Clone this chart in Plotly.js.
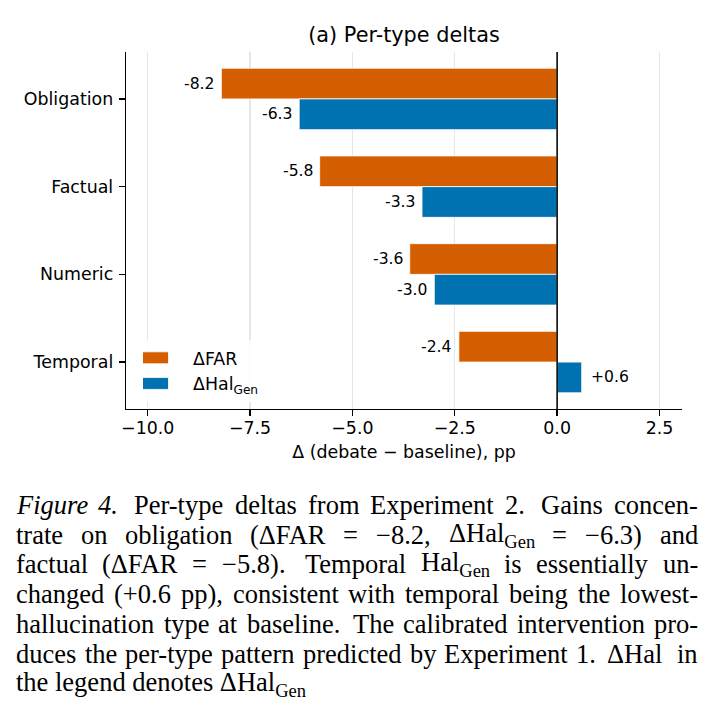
<!DOCTYPE html>
<html>
<head>
<meta charset="utf-8">
<script src="https://cdn.plot.ly/plotly-3.0.1.min.js"></script>
<style>
  html, body { margin: 0; padding: 0; background: #fff; }
  #chart { width: 708px; height: 715px; }
</style>
</head>
<body>
<div id="chart"></div>
<script>
// ---- data ----
const categories = ['Obligation', 'Factual', 'Numeric', 'Temporal'];
const deltaFAR = [-8.2, -5.8, -3.6, -2.4];
const deltaHalGen = [-6.3, -3.3, -3.0, 0.6];
const seriesNames = ['ΔFAR', 'ΔHal<sub>Gen</sub>'];
const xTickVals = [-10, -7.5, -5, -2.5, 0, 2.5];
const chartTitle = '(a) Per-type deltas';
const xAxisTitle = 'Δ (debate − baseline), pp';
const captionLines = [
  '<i>Figure</i> <i>4.</i> Per-type deltas from Experiment 2. Gains concen-',
  'trate on obligation (ΔFAR = −8.2, ΔHal<sub>Gen</sub> = −6.3) and',
  'factual (ΔFAR = −5.8). Temporal Hal<sub>Gen</sub> is essentially un-',
  'changed (+0.6 pp), consistent with temporal being the lowest-',
  'hallucination type at baseline. The calibrated intervention pro-',
  'duces the per-type pattern predicted by Experiment 1. ΔHal\u00a0 in',
  'the legend denotes ΔHal<sub>Gen</sub>'
];

// ---- styles ----
const colors = ['#d55e00', '#0072b2'];
const sans = 'DejaVu Sans, sans-serif';
const serifName = 'Liberation Serif';
const serif = serifName + ', Times New Roman, serif';
const W = 708, H = 715;
const M = {l: 126, r: 26, t: 52, b: 306};
const plotH = H - M.t - M.b, plotW = W - M.l - M.r;
const pxToPaperY = py => (H - M.b - py) / plotH;
const pxToPaperX = px => (px - M.l) / plotW;

const yIdx = categories.map((c, i) => i);
const series = [deltaFAR, deltaHalGen];

const traces = series.map((vals, s) => ({
  type: 'bar',
  orientation: 'h',
  name: seriesNames[s],
  x: vals,
  y: yIdx,
  marker: {color: colors[s], line: {color: 'white', width: 0.8}},
  hoverinfo: 'skip'
}));

const halfBar = 0.175;
const fmt = v => (v > 0 ? '+' : '') + v.toFixed(1);
const annotations = [];
series.forEach((vals, s) => {
  vals.forEach((v, i) => {
    annotations.push({
      x: v, y: i + (s === 0 ? -halfBar : halfBar), xref: 'x', yref: 'y',
      text: fmt(v), showarrow: false,
      xanchor: v < 0 ? 'right' : 'left', yanchor: 'middle',
      xshift: v < 0 ? -5 : 7,
      font: {family: sans, size: 15.6, color: '#000'}
    });
  });
});

// ---- caption: justified lines, measured with canvas ----
const capBase0 = 513, capStep = 29.8, capFont = 26.5;
const capLeft = 15, capRight = 697;
const ctx = document.createElement('canvas').getContext('2d');
function measureWord(html) {
  const parts = html.split(/(<\/?(?:i|sub)>)/);
  let italic = false, sub = false, w = 0;
  parts.forEach(p => {
    if (p === '<i>') italic = true;
    else if (p === '</i>') italic = false;
    else if (p === '<sub>') sub = true;
    else if (p === '</sub>') sub = false;
    else if (p) {
      const size = sub ? capFont * 0.7 : capFont;
      ctx.font = (italic ? 'italic ' : '') + size + 'px "' + serifName + '"';
      w += ctx.measureText(p).width;
    }
  });
  return w;
}
const capFontObj = {family: serif, size: capFont, color: '#000'};
captionLines.forEach((line, k) => {
  const yP = pxToPaperY(capBase0 + k * capStep - 8.2);
  const last = k === captionLines.length - 1;
  if (last) {
    annotations.push({
      x: pxToPaperX(capLeft - 1), y: yP, xref: 'paper', yref: 'paper',
      xanchor: 'left', yanchor: 'middle', text: line, showarrow: false,
      font: capFontObj
    });
    return;
  }
  const words = line.split(/ +/).filter(w => w.length);
  const widths = words.map(measureWord);
  const space = capFont * 0.25;
  const gaps = [], weights = [];
  for (let i = 0; i < words.length - 1; i++) {
    const plain = words[i].replace(/<[^>]+>/g, '');
    const sentence = /[.]$/.test(plain);
    gaps.push(space + (sentence ? capFont * 0.08 : 0));
    weights.push(sentence ? 1.5 : 1);
  }
  const natural = widths.reduce((a, b) => a + b, 0) + gaps.reduce((a, b) => a + b, 0);
  const extra = (capRight - capLeft) - natural;
  const wsum = weights.reduce((a, b) => a + b, 0);
  let xpos = capLeft;
  words.forEach((w, i) => {
    annotations.push({
      x: pxToPaperX(xpos - 1), y: yP, xref: 'paper', yref: 'paper',
      xanchor: 'left', yanchor: 'middle', text: w, showarrow: false,
      font: capFontObj
    });
    if (i < gaps.length) xpos += widths[i] + gaps[i] + extra * weights[i] / wsum;
  });
});

const layout = {
  width: W, height: H,
  margin: M,
  paper_bgcolor: '#fff', plot_bgcolor: '#fff',
  font: {family: sans, color: '#000', size: 17.4},
  title: {
    text: chartTitle, x: 0.5, xref: 'paper', xanchor: 'center',
    y: 1 - 35 / H, yref: 'container', yanchor: 'middle',
    font: {family: sans, size: 20.8, color: '#000'}
  },
  barmode: 'group', bargap: 0.3, bargroupgap: 0,
  showlegend: true,
  legend: {
    x: pxToPaperX(143), xanchor: 'left',
    y: pxToPaperY(402), yanchor: 'bottom',
    bgcolor: 'rgba(255,255,255,0.85)', borderwidth: 0,
    font: {family: sans, size: 17.4, color: '#000'},
    itemwidth: 40, traceorder: 'normal'
  },
  xaxis: {
    range: [-10.53, 3.05], tickmode: 'array', tickvals: xTickVals, tickformat: '.1f',
    showgrid: true, gridcolor: '#e6e6e6', gridwidth: 1.3,
    zeroline: false, showline: true, linecolor: '#000', linewidth: 1.3,
    ticks: 'outside', ticklen: 6, tickwidth: 1.3, tickcolor: '#000',
    ticklabelstandoff: -3,
    tickfont: {family: sans, size: 17.4, color: '#000'},
    title: {text: xAxisTitle, font: {family: sans, size: 17.4, color: '#000'}, standoff: 8},
    fixedrange: true
  },
  yaxis: {
    range: [3.535, -0.535], tickmode: 'array', tickvals: yIdx, ticktext: categories,
    showgrid: false, zeroline: false, showline: true, linecolor: '#000', linewidth: 1.3,
    ticks: 'outside', ticklen: 6, tickwidth: 1.3, tickcolor: '#000',
    ticklabelstandoff: 2,
    tickfont: {family: sans, size: 17.4, color: '#000'},
    fixedrange: true
  },
  shapes: [{
    type: 'line', xref: 'x', yref: 'paper', x0: 0, x1: 0, y0: 0, y1: 1,
    line: {color: '#000', width: 1.5}, layer: 'above'
  }],
  annotations: annotations
};

Plotly.newPlot('chart', traces, layout, {staticPlot: true, displayModeBar: false}).then(gd => {
  // widen legend swatches to matplotlib-style patches
  gd.querySelectorAll('.legend .legendpoints path').forEach(p => {
    p.setAttribute('d', 'M17.5,6H-17.5V-6H17.5Z');
    p.setAttribute('transform', 'translate(8,0)');
  });
});
</script>
</body>
</html>
